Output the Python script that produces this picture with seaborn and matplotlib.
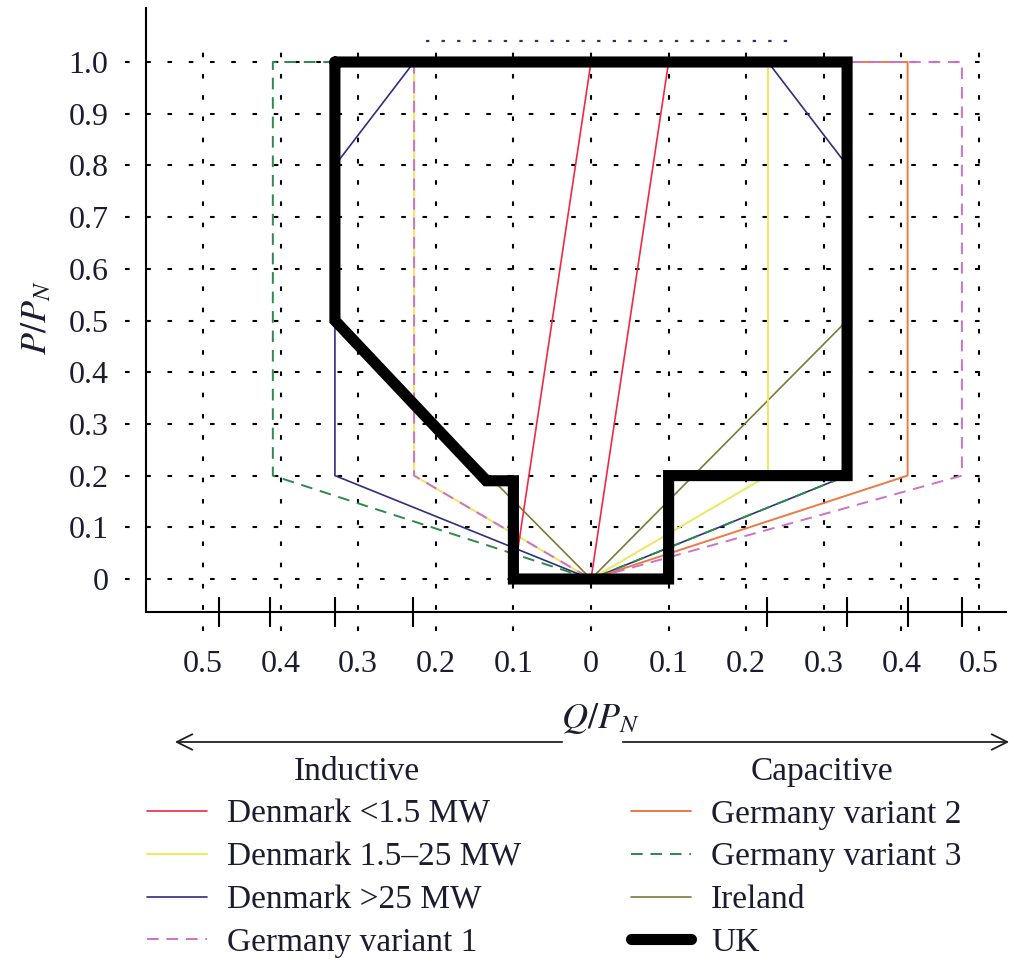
import numpy as np
import matplotlib
matplotlib.use("Agg")
import matplotlib.pyplot as plt
import seaborn as sns
from matplotlib.patches import FancyArrowPatch

sns.set_theme(style="white")
plt.rcParams["font.family"] = ["Liberation Serif", "DejaVu Serif"]
plt.rcParams["mathtext.fontset"] = "stix"

# Reactive power capability envelopes: Q/P_N (negative = inductive) vs P/P_N
dk_small_q = [-0.10, 0.00, 0.10, 0.00, -0.10]
dk_small_p = [0.00, 1.00, 1.00, 0.00, 0.00]

dk_mid_q = [0.228, 0.228, 0.00, -0.228, -0.228, 0.228]
dk_mid_p = [1.00, 0.20, 0.00, 0.20, 1.00, 1.00]

dk_large_q = [-0.228, 0.228, 0.33, 0.33, 0.00, -0.33, -0.33, -0.228]
dk_large_p = [1.00, 1.00, 0.80, 0.20, 0.00, 0.20, 0.80, 1.00]

de_v1_q = [-0.228, -0.228, 0.00, 0.478, 0.478, -0.228]
de_v1_p = [1.00, 0.20, 0.00, 0.20, 1.00, 1.00]

de_v2_q = [0.00, 0.408, 0.408, 0.00]
de_v2_p = [0.00, 0.20, 1.00, 1.00]

de_v3_q = [-0.33, -0.41, -0.41, 0.00, 0.33, 0.33]
de_v3_p = [1.00, 1.00, 0.20, 0.00, 0.20, 1.00]

ie_q = [-0.33, -0.33, 0.00, 0.33, 0.33]
ie_p = [1.00, 0.50, 0.00, 0.50, 1.00]

uk_q = [-0.33, 0.33, 0.33, 0.10, 0.10, -0.10, -0.10, -0.10, -0.135, -0.33, -0.33]
uk_p = [1.00, 1.00, 0.20, 0.20, 0.00, 0.00, 0.20, 0.19, 0.19, 0.50, 1.00]

# dotted reference segment above the envelopes
top_q = [-0.213, 0.26]
top_p = [1.04, 1.04]

x_labels_at = [-0.5, -0.4, -0.3, -0.2, -0.1, 0.0, 0.1, 0.2, 0.3, 0.4, 0.5]
x_marks_at = [-0.48, -0.414, -0.33, -0.229, 0.0, 0.227, 0.33, 0.408, 0.478]
y_labels_at = [0.0, 0.1, 0.2, 0.3, 0.4, 0.5, 0.6, 0.7, 0.8, 0.9, 1.0]
y_marks_at = [0.0, 0.1, 0.2, 0.3, 0.4, 0.5, 0.6]

W, H = 1016, 965
fig = plt.figure(figsize=(W / 100, H / 100), dpi=100)
ax = fig.add_axes([146 / W, 1 - 612 / H, 860 / W, 604 / H])
ax.set_facecolor("white")

q_lo, q_hi = (146 - 591) / 776, (1006 - 591) / 776
p_lo, p_hi = (579 - 612) / 517, (579 - 8) / 517
ax.set_xlim(q_lo, q_hi)
ax.set_ylim(p_lo, p_hi)

# dotted grid, running a little past the axes
grid_kw = dict(color="black", lw=1.5, linestyle=(0, (2.2, 8.0)), clip_on=False, zorder=1)
ax.vlines(x_labels_at, -0.1, 1.02, **grid_kw)
ax.hlines(y_labels_at, -0.60, 0.52, **grid_kw)

thin = 1.2
dash = (0, (6, 4))
series = [
    ("Ireland", ie_q, ie_p, dict(color="#7d7a35", lw=thin)),
    ("Denmark 1.5–25 MW", dk_mid_q, dk_mid_p, dict(color="#efe768", lw=thin + 0.3)),
    ("Denmark >25 MW", dk_large_q, dk_large_p, dict(color="#2e2f7e", lw=thin)),
    ("Germany variant 2", de_v2_q, de_v2_p, dict(color="#f07845", lw=thin + 0.2)),
    ("Germany variant 3", de_v3_q, de_v3_p, dict(color="#2b8a4e", lw=thin + 0.2, linestyle=dash)),
    ("Germany variant 1", de_v1_q, de_v1_p, dict(color="#cf72c6", lw=thin + 0.2, linestyle=dash)),
    ("Denmark <1.5 MW", dk_small_q, dk_small_p, dict(color="#ee2a45", lw=thin)),
    ("UK", uk_q, uk_p, dict(color="black", lw=8, solid_capstyle="round", solid_joinstyle="miter")),
]
for i, (name, q, p, kw) in enumerate(series):
    sns.lineplot(x=q, y=p, sort=False, estimator=None, label=name, ax=ax, zorder=3 + i, **kw)

sns.lineplot(x=top_q, y=top_p, sort=False, estimator=None, ax=ax, color="#2e2f7e",
             lw=1.6, linestyle=(0, (1.5, 5.5)), legend=False, zorder=3)

handles, labels = ax.get_legend_handles_labels()
if ax.get_legend() is not None:
    ax.get_legend().remove()
lookup = dict(zip(labels, handles))
order = ["Denmark <1.5 MW", "Denmark 1.5–25 MW", "Denmark >25 MW", "Germany variant 1",
         "Germany variant 2", "Germany variant 3", "Ireland", "UK"]

# axes styling
for side in ("top", "right"):
    ax.spines[side].set_visible(False)
for side in ("left", "bottom"):
    ax.spines[side].set_color("black")
    ax.spines[side].set_linewidth(1.5)

tick_color = "#1c1c30"
ax.set_xticks(x_labels_at)
ax.set_xticklabels(["0" if v == 0 else f"{abs(v):.1f}" for v in x_labels_at])
ax.set_xticks(x_marks_at, minor=True)
ax.set_yticks(y_labels_at)
ax.set_yticklabels(["0" if v == 0 else f"{v:.1f}" for v in y_labels_at])
ax.set_yticks(y_marks_at, minor=True)
ax.tick_params(axis="x", which="major", length=0, pad=27, labelsize=23, labelcolor=tick_color)
ax.tick_params(axis="y", which="major", length=0, pad=27, labelsize=23, labelcolor=tick_color)
ax.tick_params(axis="x", which="minor", direction="inout", length=22, width=1.5, color="black", bottom=True)
ax.tick_params(axis="y", which="minor", direction="inout", length=31, width=1.5, color="black", left=True)

ax.set_xlabel(r"$Q/P_N$", fontsize=26, color=tick_color)
ax.set_ylabel(r"$P/P_N$", fontsize=26, color=tick_color)
ax.xaxis.set_label_coords((600 - 146) / 860, (612 - 701) / 604)
ax.yaxis.set_label_coords((54 - 146) / 860, (612 - 318) / 604)

# direction arrows under the Q axis
ya = 1 - 742 / H
for x0, x1 in ((565, 172), (620, 1012)):
    fig.add_artist(FancyArrowPatch((x0 / W, ya), (x1 / W, ya), transform=fig.transFigure,
                                   arrowstyle="->", mutation_scale=28, lw=1.3, color="#222222"))
fig.text(357 / W, 1 - 772 / H, "Inductive", ha="center", va="center", fontsize=24, color=tick_color)
fig.text(822 / W, 1 - 772 / H, "Capacitive", ha="center", va="center", fontsize=24, color=tick_color)

fig.legend([lookup[k] for k in order], order, ncol=2, loc="upper left",
           bbox_to_anchor=(147 / W, 1 - 799 / H), frameon=False, fontsize=24,
           handlelength=1.8, handletextpad=0.6, columnspacing=3.3, labelspacing=0.37,
           borderpad=0, borderaxespad=0, labelcolor=tick_color)

fig.savefig("out.png", dpi=100)
